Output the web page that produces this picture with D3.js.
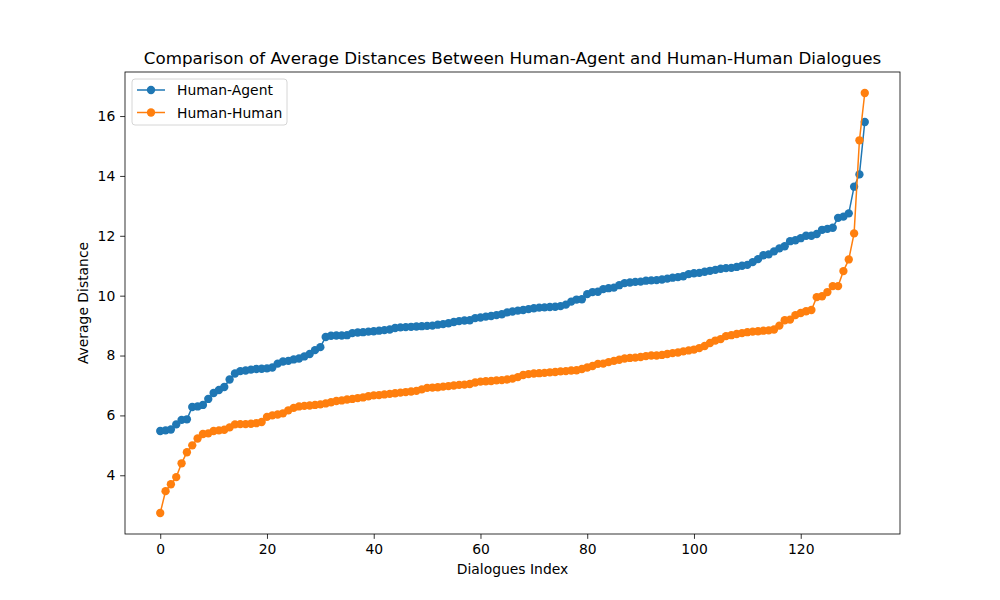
<!DOCTYPE html>
<html><head><meta charset="utf-8">
<script src="https://cdn.jsdelivr.net/npm/d3@7"></script>
<style>body{margin:0;background:#fff}svg{display:block}text{font-family:"DejaVu Sans",sans-serif}</style>
</head><body><svg id="c" width="1000" height="600"></svg>
<script>
const seriesNames = ["Human-Agent", "Human-Human"];
const humanAgent = [5.48,5.50,5.53,5.70,5.85,5.87,6.28,6.30,6.35,6.55,6.75,6.85,6.95,7.20,7.40,7.48,7.50,7.53,7.55,7.56,7.57,7.60,7.73,7.80,7.82,7.87,7.90,7.97,8.05,8.18,8.28,8.62,8.66,8.67,8.67,8.68,8.75,8.77,8.78,8.80,8.81,8.83,8.85,8.87,8.92,8.94,8.95,8.96,8.97,8.98,8.99,9.00,9.03,9.05,9.08,9.12,9.15,9.17,9.18,9.25,9.27,9.30,9.32,9.35,9.38,9.44,9.47,9.50,9.52,9.55,9.58,9.60,9.61,9.62,9.63,9.65,9.70,9.80,9.87,9.88,10.05,10.12,10.13,10.22,10.25,10.27,10.35,10.42,10.44,10.46,10.47,10.50,10.51,10.52,10.54,10.57,10.60,10.62,10.65,10.72,10.75,10.76,10.80,10.83,10.86,10.90,10.92,10.93,10.96,11.00,11.03,11.12,11.22,11.35,11.38,11.48,11.58,11.65,11.82,11.85,11.92,12.00,12.00,12.06,12.20,12.23,12.27,12.60,12.64,12.75,13.64,14.05,15.80];
const humanHuman = [2.74,3.47,3.70,3.94,4.40,4.77,5.00,5.23,5.38,5.40,5.48,5.50,5.52,5.60,5.70,5.71,5.71,5.72,5.74,5.78,5.95,6.00,6.03,6.07,6.17,6.25,6.30,6.32,6.33,6.35,6.37,6.40,6.44,6.48,6.50,6.53,6.55,6.58,6.60,6.64,6.67,6.68,6.70,6.72,6.74,6.76,6.78,6.80,6.82,6.87,6.92,6.93,6.94,6.96,6.98,7.00,7.02,7.03,7.05,7.10,7.13,7.14,7.15,7.17,7.18,7.20,7.23,7.28,7.35,7.38,7.40,7.41,7.42,7.44,7.45,7.47,7.48,7.50,7.51,7.55,7.60,7.65,7.72,7.73,7.78,7.82,7.86,7.90,7.92,7.93,7.95,7.98,8.00,8.00,8.02,8.05,8.08,8.10,8.14,8.17,8.20,8.25,8.32,8.42,8.50,8.55,8.65,8.68,8.72,8.75,8.78,8.80,8.81,8.83,8.84,8.87,9.00,9.18,9.20,9.35,9.42,9.48,9.52,9.95,9.98,10.12,10.32,10.32,10.82,11.21,12.08,15.19,16.77];
const xTicks = [0,20,40,60,80,100,120];
const yTicks = [4,6,8,10,12,14,16];
const colors = ["#1f77b4", "#ff7f0e"];

const svg = d3.select("#c");
const L=125,R=900,T=72,B=534;
const n = humanAgent.length;
const xr = n-1, xpad = xr*0.05;
const allV = humanAgent.concat(humanHuman);
const ymin = d3.min(allV), ymax = d3.max(allV), ypad=(ymax-ymin)*0.05;
const x = d3.scaleLinear().domain([-xpad, xr+xpad]).range([L,R]);
const y = d3.scaleLinear().domain([ymin-ypad, ymax+ypad]).range([B,T]);

const gx = svg.append("g").attr("transform",`translate(0,${B})`)
  .call(d3.axisBottom(x).tickValues(xTicks).tickSize(4.86).tickPadding(4.9));
const gy = svg.append("g").attr("transform",`translate(${L},0)`)
  .call(d3.axisLeft(y).tickValues(yTicks).tickSize(4.86).tickPadding(4.9));
[gx,gy].forEach(g=>{
  g.select(".domain").remove();
  g.selectAll("line").attr("stroke","#000").attr("stroke-width",0.8);
  g.selectAll("text").attr("font-size","13.9px").attr("fill","#000").attr("font-family","DejaVu Sans");
});

const data = [humanAgent, humanHuman];
data.forEach((s,i)=>{
  const line = d3.line().x((d,j)=>x(j)).y(d=>y(d));
  svg.append("path").datum(s).attr("d",line).attr("fill","none")
    .attr("stroke",colors[i]).attr("stroke-width",1.5);
  svg.append("g").selectAll("circle").data(s).join("circle")
    .attr("cx",(d,j)=>x(j)).attr("cy",d=>y(d)).attr("r",4.17)
    .attr("fill",colors[i]);
});

svg.append("rect").attr("x",L).attr("y",T).attr("width",R-L).attr("height",B-T)
  .attr("fill","none").attr("stroke","#000").attr("stroke-width",0.8);

svg.append("text").attr("x",(L+R)/2).attr("y",T-8.5).attr("text-anchor","middle")
  .attr("font-size","16.7px").text("Comparison of Average Distances Between Human-Agent and Human-Human Dialogues");
svg.append("text").attr("x",(L+R)/2).attr("y",574).attr("text-anchor","middle")
  .attr("font-size","13.9px").text("Dialogues Index");
svg.append("text").attr("transform",`translate(88,${(T+B)/2}) rotate(-90)`).attr("text-anchor","middle")
  .attr("font-size","13.9px").text("Average Distance");

// legend
const lg = svg.append("g");
lg.append("rect").attr("x",132).attr("y",79).attr("width",155).attr("height",46).attr("rx",3)
  .attr("fill","#fff").attr("fill-opacity",0.8).attr("stroke","#ccc").attr("stroke-width",0.8);
seriesNames.forEach((nm,i)=>{
  const yy = 90 + i*22.5;
  lg.append("line").attr("x1",137).attr("x2",165).attr("y1",yy).attr("y2",yy)
    .attr("stroke",colors[i]).attr("stroke-width",1.5);
  lg.append("circle").attr("cx",151).attr("cy",yy).attr("r",4.17).attr("fill",colors[i]);
  lg.append("text").attr("x",177).attr("y",yy+5).attr("font-size","13.9px").text(nm);
});
</script></body></html>
